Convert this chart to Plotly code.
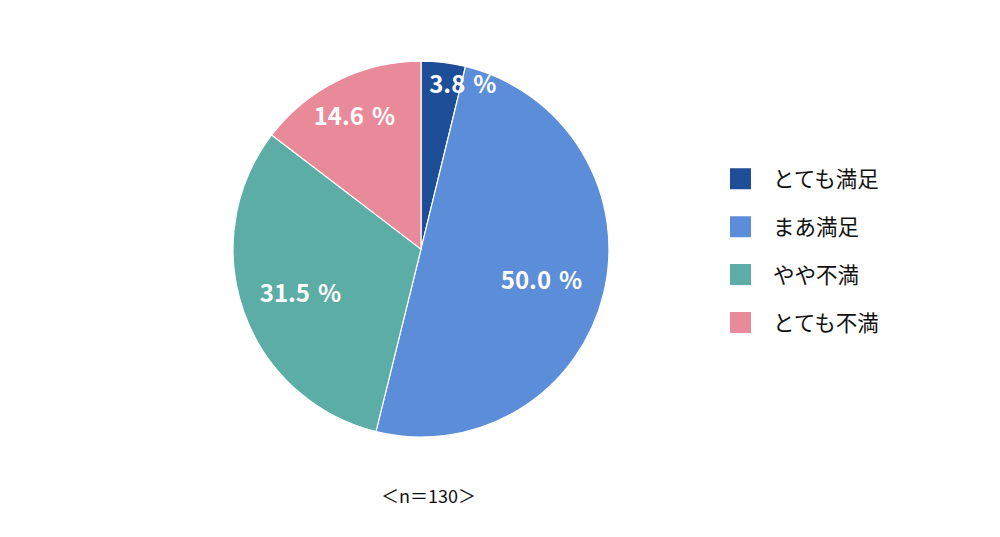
import plotly.graph_objects as go

# satisfaction survey, n=130
categories = ['とても満足', 'まあ満足', 'やや不満', 'とても不満']
shares = [3.8, 50.0, 31.5, 14.6]
colors = ['#1F4E99', '#5B8DD9', '#5BADA6', '#E88A99']
sample_note = '＜n＝130＞'

pie_domain = dict(x=[0.225, 0.601], y=[0.201, 0.901])
label_font = dict(color='white', size=24, family='Noto Sans CJK JP', weight='bold')
# hole size of the invisible ring that carries each slice label -> radial position
label_holes = [0.76, 0.32, 0.36, 0.6]
label_shift = ['\u00a0' * 8, '', '', '']

fig = go.Figure()

# the visible pie
fig.add_trace(go.Pie(
    labels=categories, values=shares,
    sort=False, direction='clockwise', rotation=0,
    marker=dict(colors=colors, line=dict(color='white', width=1.2)),
    textinfo='none',
    hovertemplate='%{label}: %{value:.1f} %<extra></extra>',
    domain=pie_domain, showlegend=False,
))

# transparent rings, one per label, so the percentages sit further out
for i, hole in enumerate(label_holes):
    templates = [''] * len(shares)
    templates[i] = label_shift[i] + '%{value:.1f}\u2004%'
    fig.add_trace(go.Pie(
        labels=categories, values=shares,
        sort=False, direction='clockwise', rotation=0, hole=hole,
        marker=dict(colors=['rgba(0,0,0,0)'] * len(shares), line=dict(width=0)),
        texttemplate=templates,
        textposition='inside',
        insidetextorientation='horizontal',
        textfont=label_font,
        hoverinfo='skip',
        domain=pie_domain, showlegend=False,
    ))

# legend entries
for name, c in zip(categories, colors):
    fig.add_trace(go.Scatter(
        x=[None], y=[None], mode='markers', name=name, legendgroup=name,
        marker=dict(symbol='square', size=20, color=c, line=dict(color=c, width=5)),
    ))

fig.add_annotation(
    text=sample_note, showarrow=False,
    x=0.42, y=0.066, xref='paper', yref='paper',
    font=dict(size=18, color='#111111', family='Noto Sans CJK JP'),
)

fig.update_layout(
    width=1000, height=537,
    margin=dict(l=0, r=0, t=0, b=0),
    paper_bgcolor='white',
    plot_bgcolor='white',
    uniformtext=dict(minsize=22, mode='show'),
    xaxis=dict(visible=False),
    yaxis=dict(visible=False),
    legend=dict(
        x=0.70, y=0.548, xanchor='left', yanchor='middle',
        font=dict(size=21.5, color='#111111', family='Noto Sans CJK JP'),
        tracegroupgap=17,
        itemwidth=55,
    ),
)

fig.write_html("out.html")
